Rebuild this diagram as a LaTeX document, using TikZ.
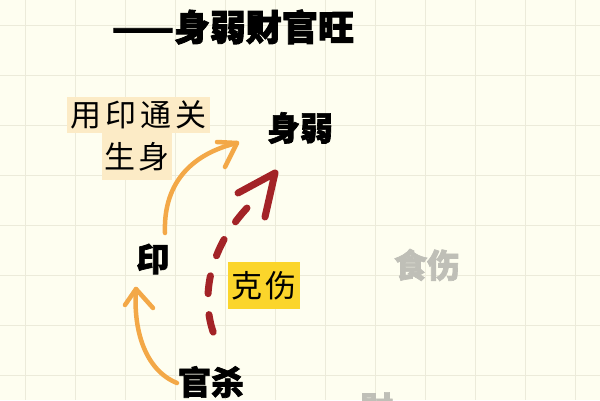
\documentclass[tikz,border=0pt]{standalone}
\usepackage{fontspec}
\newfontfamily\cjk{Noto Sans CJK SC}
\definecolor{bgcol}{HTML}{FEFEF0}
\definecolor{gridcol}{HTML}{ECEBDA}
\definecolor{orangecol}{HTML}{F3A847}
\definecolor{redcol}{HTML}{A32327}
\definecolor{palebox}{HTML}{FCEBC6}
\definecolor{yellowbox}{HTML}{FBD52B}
\definecolor{graytext}{HTML}{BFBFB7}
\tikzset{
  gridline/.style={draw=gridcol, line width=1pt},
  titletext/.style={inner sep=0pt, font=\cjk\bfseries\fontsize{36}{36}\selectfont\addfontfeature{FakeBold=2.5}},
  heavy/.style={inner sep=0pt, font=\cjk\bfseries\fontsize{33}{33}\selectfont\addfontfeature{FakeBold=2}},
  dim/.style={heavy, text=graytext},
  brush/.style={inner sep=0pt, font=\cjk\fontsize{31}{31}\selectfont\addfontfeature{LetterSpace=12}},
  orangearrow/.style={draw=orangecol, line width=4.5pt, line cap=round, line join=round},
  redarrow/.style={draw=redcol, line width=7pt, line cap=round, line join=round},
}
\begin{document}
\begin{tikzpicture}[x=1pt,y=-1pt]
\useasboundingbox (0,0) rectangle (600,400);
\fill[bgcol] (0,0) rectangle (600,400);
\clip (0,0) rectangle (600,400);
\foreach \i in {25,75,...,575} \draw[gridline] (\i,0) -- (\i,400);
\foreach \j in {25,75,...,375} \draw[gridline] (0,\j) -- (600,\j);

% title
\node[titletext] (title) at (233,27) {——身弱财官旺};

% boxes
\node[brush, fill=palebox, minimum width=143pt, minimum height=36pt] (tong) at (138.5,115) {用印通关};
\node[brush, fill=palebox, minimum width=70pt, minimum height=47pt] (sheng) at (137,156.5) {生身};
\node[brush, fill=yellowbox, minimum width=72pt, minimum height=47pt] (ke) at (264,285.5) {克伤};

% labels
\node[heavy] (shenruo) at (300,128) {身弱};
\node[heavy] (yin) at (153,259) {印};
\node[heavy] (guansha) at (211,382) {官杀};
\node[dim] (shishang) at (427,265) {食伤};
\node[dim] (cai) at (377,408) {财};

% orange arrow: yin -> up
\coordinate (a1) at (165,233);
\coordinate (a2) at (237,143);
\draw[orangearrow] (a1) .. controls (163,180) and (195,153) .. (a2);
\draw[orangearrow] (217,142) -- (a2) -- (225,167);

% orange arrow: guansha -> yin
\coordinate (b1) at (177,383);
\coordinate (b2) at (136,289);
\draw[orangearrow] (b1) .. controls (145,370) and (133,330) .. (b2);
\draw[orangearrow] (125,305) -- (b2) -- (153,308);

% red dashed arrow
\coordinate (c1) at (215,337);
\coordinate (c2) at (247,208);
\coordinate (c3) at (275,173);
\draw[redarrow, dash pattern=on 18pt off 21pt] (c2) .. controls (208,250) and (200,300) .. (c1);
\draw[redarrow] (238,193) -- (c3) -- (265,217);
\end{tikzpicture}
\end{document}
